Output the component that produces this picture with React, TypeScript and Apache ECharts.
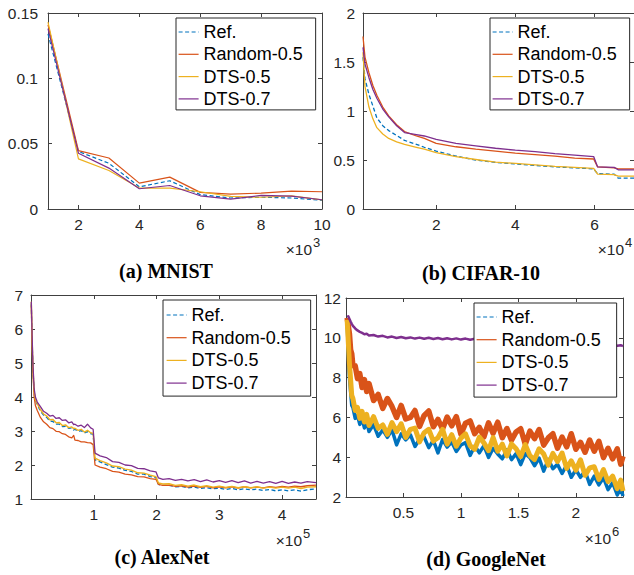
import React, { useEffect, useRef } from 'react';
import * as echarts from 'echarts';

const SERIES_NAMES = ['Ref.', 'Random-0.5', 'DTS-0.5', 'DTS-0.7'];
const COLORS = ['#0072BD', '#D95319', '#EDB120', '#7E2F8E'];

// (a) MNIST, x in 10^3 iterations
const mnistX = [1, 2, 3, 4, 5, 6, 7, 8, 9, 10];
const mnistRef = [0.134, 0.044, 0.035, 0.017, 0.0216, 0.011, 0.0084, 0.009, 0.0084, 0.0066];
const mnistRandom = [0.141, 0.0447, 0.039, 0.0198, 0.0244, 0.0127, 0.0114, 0.0122, 0.0137, 0.0132];
const mnistDts5 = [0.143, 0.0384, 0.0295, 0.016, 0.016, 0.0132, 0.0096, 0.009, 0.01, 0.007];
const mnistDts7 = [0.138, 0.0427, 0.0313, 0.0155, 0.018, 0.0101, 0.0076, 0.0104, 0.0098, 0.0071];
const mnistXTicks = [2, 4, 6, 8, 10];
const mnistYTicks = [0, 0.05, 0.1, 0.15];

// (b) CIFAR-10, x in 10^4 iterations
const cifarX = [0.15, 0.2, 0.3, 0.4, 0.5, 0.65, 0.8, 1.0, 1.2, 1.5, 1.7, 2.0, 2.5, 3.0, 3.5, 4.0, 4.5, 5.0, 5.5, 5.98, 6.08, 6.5, 6.6, 7.0];
const cifarRef = [1.55, 1.33, 1.17, 1.05, 0.93, 0.85, 0.8, 0.75, 0.7, 0.66, 0.63, 0.59, 0.54, 0.5, 0.475, 0.46, 0.445, 0.43, 0.42, 0.41, 0.36, 0.355, 0.315, 0.315];
const cifarRandom = [1.76, 1.55, 1.39, 1.26, 1.16, 1.04, 0.95, 0.86, 0.79, 0.745, 0.72, 0.67, 0.635, 0.61, 0.59, 0.57, 0.555, 0.54, 0.52, 0.51, 0.43, 0.42, 0.41, 0.41];
const cifarDts5 = [1.6, 1.25, 1.04, 0.92, 0.83, 0.765, 0.72, 0.685, 0.66, 0.63, 0.61, 0.575, 0.535, 0.505, 0.478, 0.465, 0.45, 0.435, 0.425, 0.415, 0.355, 0.35, 0.335, 0.335];
const cifarDts7 = [1.65, 1.48, 1.34, 1.22, 1.13, 1.02, 0.94, 0.85, 0.78, 0.76, 0.745, 0.71, 0.67, 0.645, 0.62, 0.6, 0.585, 0.565, 0.55, 0.535, 0.43, 0.425, 0.4, 0.4];
const cifarXTicks = [2, 4, 6];
const cifarYTicks = [0, 0.5, 1, 1.5, 2];

// (c) AlexNet, x in 10^5 iterations
const alexX = [0.005, 0.015, 0.03, 0.05, 0.07, 0.1, 0.15, 0.2, 0.25, 0.3, 0.35, 0.4, 0.45, 0.5, 0.55, 0.6, 0.65, 0.68, 0.7, 0.75, 0.8, 0.85, 0.9, 0.95, 0.99, 1.02, 1.1, 1.2, 1.3, 1.4, 1.5, 1.6, 1.7, 1.8, 1.9, 1.99, 2.03, 2.1, 2.2, 2.3, 2.4, 2.5, 2.6, 2.7, 2.8, 2.9, 3.0, 3.1, 3.2, 3.3, 3.4, 3.5, 3.6, 3.7, 3.8, 3.9, 4.0, 4.1, 4.2, 4.3, 4.4, 4.54];
const alexRef = [6.75, 5.85, 4.85, 4.12, 3.9, 3.78, 3.58, 3.47, 3.4, 3.29, 3.28, 3.2, 3.2, 3.13, 3.14, 3.08, 3.09, 3.03, 3.05, 2.99, 3.01, 2.94, 2.98, 2.92, 2.9, 2.15, 2.09, 2.01, 1.94, 1.91, 1.84, 1.81, 1.73, 1.73, 1.66, 1.63, 1.43, 1.4, 1.4, 1.36, 1.37, 1.33, 1.35, 1.31, 1.33, 1.3, 1.32, 1.28, 1.31, 1.27, 1.3, 1.27, 1.29, 1.25, 1.28, 1.24, 1.27, 1.24, 1.27, 1.23, 1.27, 1.3];
const alexRandom = [6.7, 5.7, 4.75, 4.0, 3.75, 3.6, 3.4, 3.27, 3.2, 3.1, 3.07, 2.99, 2.98, 2.92, 2.9, 2.83, 2.8, 2.87, 2.73, 2.72, 2.68, 2.68, 2.66, 2.65, 2.6, 2.0, 1.94, 1.89, 1.81, 1.79, 1.73, 1.71, 1.66, 1.65, 1.6, 1.58, 1.43, 1.4, 1.41, 1.37, 1.39, 1.35, 1.38, 1.34, 1.37, 1.33, 1.36, 1.33, 1.36, 1.32, 1.36, 1.33, 1.35, 1.33, 1.36, 1.34, 1.37, 1.35, 1.38, 1.36, 1.39, 1.41];
const alexDts5 = [6.8, 5.9, 4.9, 4.15, 3.92, 3.8, 3.63, 3.5, 3.44, 3.33, 3.34, 3.24, 3.25, 3.16, 3.18, 3.1, 3.12, 3.07, 3.08, 3.02, 3.05, 2.97, 3.02, 2.95, 2.93, 2.2, 2.13, 2.06, 1.97, 1.95, 1.88, 1.85, 1.77, 1.76, 1.7, 1.66, 1.47, 1.44, 1.45, 1.4, 1.42, 1.38, 1.41, 1.36, 1.39, 1.35, 1.38, 1.34, 1.37, 1.33, 1.36, 1.33, 1.36, 1.32, 1.35, 1.32, 1.35, 1.32, 1.35, 1.31, 1.35, 1.36];
const alexDts7 = [6.8, 6.0, 5.0, 4.25, 4.0, 3.85, 3.72, 3.58, 3.52, 3.44, 3.46, 3.37, 3.39, 3.31, 3.33, 3.24, 3.27, 3.19, 3.2, 3.14, 3.17, 3.1, 3.2, 3.09, 3.05, 2.35, 2.27, 2.22, 2.1, 2.08, 2.0, 1.98, 1.9, 1.89, 1.83, 1.8, 1.62, 1.58, 1.6, 1.55, 1.58, 1.53, 1.57, 1.51, 1.56, 1.5, 1.54, 1.49, 1.54, 1.48, 1.53, 1.47, 1.52, 1.47, 1.51, 1.46, 1.52, 1.46, 1.5, 1.47, 1.51, 1.48];
const alexXTicks = [1, 2, 3, 4];
const alexYTicks = [1, 2, 3, 4, 5, 6, 7];

// (d) GoogleNet, x in 10^6 iterations
const googX = [0.01, 0.02, 0.03, 0.04, 0.05, 0.06, 0.08, 0.1, 0.12, 0.14, 0.16, 0.18, 0.2, 0.24, 0.28, 0.32, 0.36, 0.4, 0.44, 0.48, 0.52, 0.56, 0.6, 0.64, 0.68, 0.72, 0.76, 0.8, 0.84, 0.88, 0.92, 0.96, 1.0, 1.04, 1.08, 1.12, 1.16, 1.2, 1.24, 1.28, 1.32, 1.36, 1.4, 1.44, 1.48, 1.52, 1.56, 1.6, 1.64, 1.68, 1.72, 1.76, 1.8, 1.84, 1.88, 1.92, 1.96, 2.0, 2.04, 2.08, 2.12, 2.16, 2.2, 2.24, 2.28, 2.32, 2.36, 2.39, 2.41];
const googRef = [10.8, 9.3, 8.0, 7.3, 6.6, 6.5, 5.95, 6.1, 5.65, 5.95, 5.47, 5.8, 5.29, 5.64, 5.05, 5.37, 5.0, 5.38, 4.62, 5.17, 4.87, 5.13, 4.54, 4.9, 5.01, 4.48, 4.85, 4.22, 4.89, 4.51, 4.77, 4.29, 4.61, 4.73, 4.09, 4.56, 4.22, 4.58, 3.99, 4.45, 4.16, 3.92, 4.37, 3.88, 4.18, 3.63, 4.18, 3.98, 3.57, 3.96, 3.3, 3.89, 3.42, 3.65, 3.18, 3.61, 2.99, 3.37, 2.99, 3.31, 2.63, 3.05, 2.61, 2.97, 2.37, 2.72, 2.1, 2.43, 2.05];
const googRandom = [11.0, 10.6, 10.2, 9.4, 9.2, 8.6, 8.6, 7.95, 8.2, 7.5, 7.9, 7.3, 7.7, 6.85, 7.15, 6.45, 6.95, 6.55, 6.0, 6.6, 5.92, 6.0, 6.35, 5.55, 6.1, 6.32, 5.53, 5.9, 5.41, 6.02, 5.58, 6.04, 5.15, 5.71, 5.82, 5.18, 5.5, 5.02, 5.73, 5.2, 5.76, 4.98, 5.44, 4.85, 5.27, 5.43, 4.65, 5.31, 4.93, 5.39, 4.61, 4.97, 5.18, 4.45, 5.01, 4.52, 5.18, 4.4, 4.75, 4.25, 4.86, 4.3, 4.8, 3.98, 4.45, 3.92, 4.42, 3.65, 4.05];
const googDts5 = [10.9, 9.8, 8.7, 7.9, 7.1, 6.95, 6.35, 6.5, 5.95, 6.3, 5.77, 6.15, 5.59, 6.04, 5.45, 5.62, 5.15, 5.74, 5.28, 5.68, 4.99, 5.4, 5.46, 4.77, 5.23, 5.4, 4.81, 4.98, 5.4, 4.66, 5.13, 4.55, 4.96, 5.17, 4.58, 4.4, 5.01, 4.72, 4.33, 4.99, 4.3, 4.66, 4.07, 4.67, 4.43, 4.03, 4.63, 4.08, 3.88, 4.42, 4.16, 3.6, 4.19, 3.78, 4.21, 3.44, 3.82, 3.35, 3.87, 3.09, 3.46, 3.52, 2.88, 3.38, 2.77, 3.05, 2.42, 2.85, 2.3];
const googDts7 = [11.05, 11.08, 10.95, 10.82, 10.7, 10.6, 10.47, 10.37, 10.3, 10.25, 10.18, 10.2, 10.12, 10.14, 10.06, 10.1, 10.02, 10.06, 9.99, 10.04, 9.98, 10.02, 9.96, 10.01, 9.95, 10.0, 9.94, 9.99, 9.93, 9.98, 9.92, 9.97, 9.91, 9.96, 9.9, 9.95, 9.89, 9.94, 9.88, 9.93, 9.87, 9.92, 9.86, 9.91, 9.85, 9.9, 9.84, 9.89, 9.83, 9.88, 9.82, 9.86, 9.8, 9.85, 9.78, 9.83, 9.76, 9.8, 9.74, 9.78, 9.71, 9.75, 9.68, 9.72, 9.65, 9.68, 9.6, 9.63, 9.58];
const googXTicks = [0.5, 1, 1.5, 2];
const googYTicks = [2, 4, 6, 8, 10, 12];

const AXIS_COLOR = '#404040';
const LABEL_FONT = '"Liberation Sans", Arial, Helvetica, sans-serif';
const CAPTION_FONT = '"Liberation Serif", "Times New Roman", serif';

const PANELS = [
  {
    grid: { left: 48, top: 13, width: 274, height: 196 },
    xRange: [1, 10], xTicks: mnistXTicks, yRange: [0, 0.15], yTicks: mnistYTicks, yMargin: 10,
    xs: mnistX, ys: [mnistRef, mnistRandom, mnistDts5, mnistDts7], widths: [1.2, 1.2, 1.2, 1.2], refDash: [4, 2.5],
    legend: { left: 176, top: 18, padding: [5, 13, 2, 2], gap: 4.3 },
    caption: { text: '(a) MNIST', x: 166, y: 271 },
    exp: { text: '3', x: 312, y: 249 },
  },
  {
    grid: { left: 363, top: 13, width: 271, height: 196 },
    xRange: [0.15, 7], xTicks: cifarXTicks, yRange: [0, 2], yTicks: cifarYTicks, yMargin: 8,
    xs: cifarX, ys: [cifarRef, cifarRandom, cifarDts5, cifarDts7], widths: [1.3, 1.3, 1.3, 1.3], refDash: [4, 2.5],
    legend: { left: 490, top: 18, padding: [5, 13, 2, 2], gap: 4.3 },
    caption: { text: '(b) CIFAR-10', x: 481, y: 273 },
    exp: { text: '4', x: 624, y: 249 },
  },
  {
    grid: { left: 31, top: 295, width: 285, height: 204 },
    xRange: [0, 4.54], xTicks: alexXTicks, yRange: [1, 7], yTicks: alexYTicks, yMargin: 8,
    xs: alexX, ys: [alexRef, alexRandom, alexDts5, alexDts7], widths: [1.3, 1.3, 1.4, 1.3], refDash: [4, 2.5],
    legend: { left: 163, top: 300, padding: [6, 20, 4, 3], gap: 4.7 },
    caption: { text: '(c) AlexNet', x: 162, y: 557 },
    exp: { text: '5', x: 302, y: 540 },
  },
  {
    grid: { left: 346, top: 298, width: 277, height: 199 },
    xRange: [0, 2.41], xTicks: googXTicks, yRange: [2, 12], yTicks: googYTicks, yMargin: 5,
    xs: googX, ys: [googRef, googRandom, googDts5, googDts7], widths: [3.5, 5.5, 5, 2.5], refDash: 'solid',
    legend: { left: 474, top: 303, padding: [5, 16, 3, 2], gap: 4.7 },
    caption: { text: '(d) GoogleNet', x: 486, y: 559 },
    exp: { text: '6', x: 611, y: 538 },
  },
];

function makeAxis(gridIndex: number, range: number[], ticks: number[], position: string, showLabel: boolean, margin: number) {
  return {
    type: 'value',
    gridIndex,
    position,
    min: range[0],
    max: range[1],
    axisLine: { show: true, onZero: false, lineStyle: { color: AXIS_COLOR, width: 1 } },
    axisTick: { show: true, inside: true, length: 4, customValues: ticks, lineStyle: { color: AXIS_COLOR, width: 1 } },
    axisLabel: { show: showLabel, customValues: ticks, margin, color: '#262626', fontSize: 15.5, fontFamily: LABEL_FONT },
    splitLine: { show: false },
  };
}

function buildOption() {
  const grid: any[] = [];
  const xAxis: any[] = [];
  const yAxis: any[] = [];
  const series: any[] = [];
  const legend: any[] = [];
  const title: any[] = [];
  const graphic: any[] = [];

  PANELS.forEach((p, i) => {
    grid.push({ ...p.grid, show: false, containLabel: false, outerBoundsMode: 'none' });
    xAxis.push(makeAxis(i, p.xRange, p.xTicks, 'bottom', true, 7));
    xAxis.push(makeAxis(i, p.xRange, p.xTicks, 'top', false, 7));
    yAxis.push(makeAxis(i, p.yRange, p.yTicks, 'left', true, p.yMargin));
    yAxis.push(makeAxis(i, p.yRange, p.yTicks, 'right', false, 7));
    SERIES_NAMES.forEach((name, k) => {
      series.push({
        type: 'line',
        name,
        xAxisIndex: i * 2,
        yAxisIndex: i * 2,
        data: p.xs.map((x, j) => [x, p.ys[k][j]]),
        symbol: 'none',
        showSymbol: false,
        color: COLORS[k],
        lineStyle: { color: COLORS[k], width: p.widths[k], type: k === 0 ? p.refDash : 'solid', join: 'round' },
        itemStyle: { color: COLORS[k] },
        silent: true,
        clip: true,
      });
    });
    legend.push({
      orient: 'vertical',
      left: p.legend.left,
      top: p.legend.top,
      padding: p.legend.padding,
      itemGap: p.legend.gap,
      itemWidth: 20,
      itemHeight: 18,
      backgroundColor: '#ffffff',
      borderColor: '#262626',
      borderWidth: 1,
      borderRadius: 0,
      selectedMode: false,
      itemStyle: { opacity: 0 },
      lineStyle: { width: 1.2 },
      textStyle: { fontSize: 18, fontFamily: LABEL_FONT, color: '#000000' },
      data: SERIES_NAMES,
    });
    title.push({
      text: p.caption.text,
      left: p.caption.x,
      top: p.caption.y,
      textAlign: 'center',
      textVerticalAlign: 'middle',
      padding: 0,
      textStyle: { fontFamily: CAPTION_FONT, fontWeight: 'bold', fontSize: 20, color: '#000000' },
    });
    graphic.push({
      type: 'text',
      x: p.exp.x,
      y: p.exp.y,
      style: { text: '×10', fontSize: 15.5, fontFamily: LABEL_FONT, fill: '#262626', align: 'right', verticalAlign: 'middle' },
    });
    graphic.push({
      type: 'text',
      x: p.exp.x + 1,
      y: p.exp.y - 7,
      style: { text: p.exp.text, fontSize: 13, fontFamily: LABEL_FONT, fill: '#262626', align: 'left', verticalAlign: 'middle' },
    });
  });

  return {
    animation: false,
    backgroundColor: '#ffffff',
    grid,
    xAxis,
    yAxis,
    series,
    legend,
    title,
    graphic,
  };
}

export default function App() {
  const ref = useRef<HTMLDivElement>(null);
  useEffect(() => {
    if (!ref.current) return;
    const chart = echarts.init(ref.current, null, { renderer: 'svg' });
    chart.setOption(buildOption() as any);
    return () => chart.dispose();
  }, []);
  return (
    <div
      ref={ref}
      style={{ position: 'absolute', left: 0, top: 0, width: 634, height: 575, background: '#ffffff' }}
    />
  );
}
